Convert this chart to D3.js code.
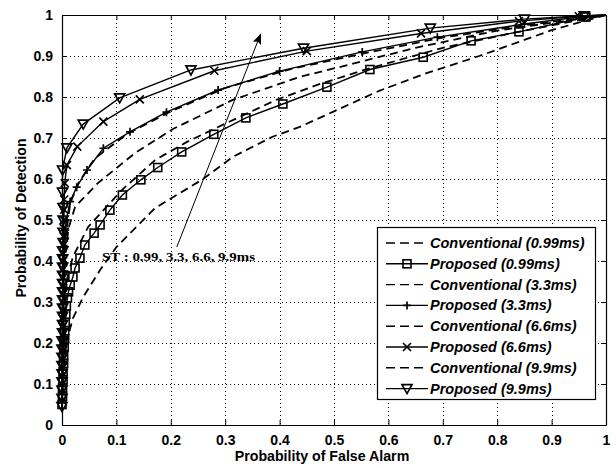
<!DOCTYPE html>
<html>
<head>
<meta charset="utf-8">
<script src="https://cdn.jsdelivr.net/npm/d3@7"></script>
<style>
	body { margin: 0; background: #fff; }
	svg { display: block; font-family: "Liberation Sans", Arial, sans-serif; }
</style>
</head>
<body>
<svg width="616" height="468"></svg>
<script>
/*
Chart data
*/

const xTicks = [0, 0.1, 0.2, 0.3, 0.4, 0.5, 0.6, 0.7, 0.8, 0.9, 1];
const yTicks = [0, 0.1, 0.2, 0.3, 0.4, 0.5, 0.6, 0.7, 0.8, 0.9, 1];

const legendLabels = [
	'Conventional (0.99ms)', 'Proposed (0.99ms)',
	'Conventional (3.3ms)', 'Proposed (3.3ms)',
	'Conventional (6.6ms)', 'Proposed (6.6ms)',
	'Conventional (9.9ms)', 'Proposed (9.9ms)'
];

// [Pfa, Pd] pairs
const conv099 = [[0,0.04],[0.002,0.12],[0.009,0.207],[0.02,0.26],[0.039,0.312],[0.07,0.378],[0.1,0.434],
	[0.171,0.529],[0.257,0.598],[0.314,0.654],[0.387,0.703],[0.437,0.727],[0.5,0.765],[0.583,0.815],
	[0.67,0.858],[0.767,0.9],[0.9,0.963],[1,1]];
const prop099 = [[0,0.05],[0.001,0.07],[0.001,0.09],[0.002,0.11],[0.002,0.13],[0.003,0.15],[0.003,0.17],
	[0.004,0.19],[0.005,0.21],[0.005,0.23],[0.006,0.25],[0.007,0.27],[0.008,0.29],[0.01,0.31],
	[0.012,0.325],[0.015,0.341],[0.02,0.361],[0.024,0.383],[0.033,0.407],[0.042,0.439],[0.059,0.468],
	[0.07,0.488],[0.088,0.524],[0.111,0.561],[0.145,0.598],[0.176,0.628],[0.22,0.666],[0.279,0.709],
	[0.338,0.749],[0.406,0.783],[0.487,0.824],[0.566,0.867],[0.664,0.897],[0.752,0.937],[0.84,0.959],
	[0.963,0.995],[1,1]];
const conv33 = [[0,0.04],[0.002,0.2],[0.005,0.3],[0.01,0.36],[0.02,0.41],[0.048,0.483],[0.11,0.573],
	[0.171,0.646],[0.229,0.69],[0.3,0.735],[0.394,0.793],[0.468,0.829],[0.56,0.868],[0.7,0.92],
	[0.85,0.962],[1,1]];
const prop33 = [[0,0.055],[0,0.075],[0.001,0.095],[0.001,0.115],[0.001,0.135],[0.001,0.155],[0.002,0.175],
	[0.002,0.195],[0.002,0.215],[0.002,0.235],[0.002,0.255],[0.003,0.275],[0.003,0.295],[0.003,0.315],
	[0.003,0.335],[0.003,0.355],[0.004,0.375],[0.004,0.395],[0.004,0.415],[0.005,0.435],[0.005,0.455],
	[0.006,0.475],[0.008,0.5],[0.015,0.545],[0.027,0.58],[0.046,0.622],[0.076,0.675],[0.125,0.715],
	[0.192,0.763],[0.287,0.817],[0.4,0.863],[0.552,0.91],[0.69,0.946],[0.85,0.978],[0.95,0.995],[1,1]];
const conv66 = [[0,0.04],[0.002,0.25],[0.005,0.4],[0.012,0.48],[0.024,0.532],[0.066,0.59],[0.134,0.663],
	[0.204,0.722],[0.314,0.793],[0.437,0.849],[0.51,0.873],[0.65,0.92],[0.8,0.962],[1,1]];
const prop66 = [[0,0.06],[0,0.08],[0,0.1],[0,0.12],[0.001,0.14],[0.001,0.16],[0.001,0.18],[0.001,0.2],
	[0.001,0.22],[0.001,0.24],[0.001,0.26],[0.002,0.28],[0.002,0.3],[0.002,0.32],[0.002,0.34],
	[0.002,0.36],[0.002,0.38],[0.002,0.4],[0.002,0.42],[0.003,0.44],[0.003,0.46],[0.003,0.48],
	[0.003,0.5],[0.004,0.525],[0.004,0.55],[0.005,0.59],[0.009,0.634],[0.028,0.679],[0.076,0.74],
	[0.143,0.794],[0.28,0.864],[0.45,0.912],[0.66,0.955],[0.84,0.985],[0.95,0.997],[1,1]];
const conv99 = [[0,0.04],[0.002,0.3],[0.006,0.45],[0.015,0.54],[0.03,0.59],[0.06,0.65],[0.12,0.71],
	[0.2,0.765],[0.3,0.822],[0.42,0.868],[0.55,0.905],[0.7,0.945],[0.85,0.975],[1,1]];
const prop99 = [[0,0.045],[0,0.065],[0,0.085],[0,0.105],[0,0.125],[0,0.145],[0,0.165],[0,0.185],
	[0,0.205],[0.001,0.225],[0.001,0.245],[0.001,0.265],[0.001,0.285],[0.001,0.305],[0.001,0.325],
	[0.001,0.345],[0.001,0.365],[0.001,0.385],[0.001,0.405],[0.001,0.425],[0.002,0.445],[0.002,0.47],
	[0.002,0.5],[0.002,0.53],[0.001,0.568],[0.001,0.622],[0.009,0.676],[0.039,0.734],[0.106,0.798],
	[0.237,0.866],[0.444,0.919],[0.677,0.968],[0.85,0.99],[0.96,0.998],[1,1]];

// annotation arrow, data coords
const arrowFrom = [0.211, 0.434];
const arrowTo = [0.365, 0.953];
const annotation = 'ST : 0.99, 3.3, 6.6, 9.9ms';

/*
Set up SVG
*/

var svg = d3.select('svg');
var plotLeft = 62, plotRight = 606, plotTop = 15, plotBottom = 425;

var x = d3.scaleLinear().domain([0, 1]).range([plotLeft, plotRight]);
var y = d3.scaleLinear().domain([0, 1]).range([plotBottom, plotTop]);

var series = [
	{ data: conv099, dashed: true,  marker: null },
	{ data: prop099, dashed: false, marker: 'square' },
	{ data: conv33,  dashed: true,  marker: null },
	{ data: prop33,  dashed: false, marker: 'plus' },
	{ data: conv66,  dashed: true,  marker: null },
	{ data: prop66,  dashed: false, marker: 'cross' },
	{ data: conv99,  dashed: true,  marker: null },
	{ data: prop99,  dashed: false, marker: 'triangle' }
];

/*
Grid (dotted, MATLAB style)
*/

var grid = svg.append('g').attr('class', 'grid')
	.attr('stroke', '#000').attr('stroke-width', 1).attr('stroke-dasharray', '1,3');

grid.selectAll('line.gx')
	.data(xTicks.slice(1, -1))
	.enter().append('line')
		.attr('x1', function(d){ return Math.round(x(d)) + 0.5; })
		.attr('x2', function(d){ return Math.round(x(d)) + 0.5; })
		.attr('y1', plotTop).attr('y2', plotBottom);

grid.selectAll('line.gy')
	.data(yTicks.slice(1, -1))
	.enter().append('line')
		.attr('y1', function(d){ return Math.round(y(d)) + 0.5; })
		.attr('y2', function(d){ return Math.round(y(d)) + 0.5; })
		.attr('x1', plotLeft).attr('x2', plotRight);

/*
Axes with inward ticks on all four sides
*/

function fmt(d){ return d === 0 ? '0' : d === 1 ? '1' : d3.format('.1f')(d); }

svg.append('g')
	.attr('transform', 'translate(0,' + plotBottom + ')')
	.call(d3.axisBottom(x).tickValues(xTicks).tickFormat(fmt).tickSizeInner(-5).tickSizeOuter(0).tickPadding(10));
svg.append('g')
	.attr('transform', 'translate(' + plotLeft + ',0)')
	.call(d3.axisLeft(y).tickValues(yTicks).tickFormat(fmt).tickSizeInner(-5).tickSizeOuter(0).tickPadding(9));
svg.append('g')
	.attr('transform', 'translate(0,' + plotTop + ')')
	.call(d3.axisTop(x).tickValues(xTicks).tickFormat('').tickSizeInner(-5).tickSizeOuter(0));
svg.append('g')
	.attr('transform', 'translate(' + plotRight + ',0)')
	.call(d3.axisRight(y).tickValues(yTicks).tickFormat('').tickSizeInner(-5).tickSizeOuter(0));

svg.selectAll('.tick text')
	.attr('fill', '#000')
	.style('font-size', '14px')
	.style('font-weight', 'bold');
svg.selectAll('.domain').attr('stroke', '#000').attr('stroke-width', 1.2);

/*
Curves
*/

var line = d3.line()
	.x(function(d){ return x(d[0]); })
	.y(function(d){ return y(d[1]); });

var curves = svg.append('g').attr('class', 'curves');

series.forEach(function(s){
	curves.append('path')
		.datum(s.data)
		.attr('fill', 'none')
		.attr('stroke', '#000')
		.attr('stroke-width', s.dashed ? 1.8 : 1.4)
		.attr('stroke-dasharray', s.dashed ? '8,5' : null)
		.attr('d', line);
});

function drawMarker(g, type, cx, cy){
	if(type == 'square'){
		g.append('rect')
			.attr('x', cx - 4).attr('y', cy - 4)
			.attr('width', 8).attr('height', 8)
			.attr('fill', 'none').attr('stroke', '#000').attr('stroke-width', 1.6);
	}
	else if(type == 'triangle'){
		g.append('path')
			.attr('d', 'M' + (cx - 5) + ',' + (cy - 4) + 'L' + (cx + 5) + ',' + (cy - 4) + 'L' + cx + ',' + (cy + 5) + 'Z')
			.attr('fill', 'none').attr('stroke', '#000').attr('stroke-width', 1.7);
	}
	else if(type == 'plus'){
		g.append('path')
			.attr('d', 'M' + (cx - 4) + ',' + cy + 'H' + (cx + 4) + 'M' + cx + ',' + (cy - 4) + 'V' + (cy + 4))
			.attr('stroke', '#000').attr('stroke-width', 1.7);
	}
	else if(type == 'cross'){
		g.append('path')
			.attr('d', 'M' + (cx - 4) + ',' + (cy - 4) + 'L' + (cx + 4) + ',' + (cy + 4) +
				'M' + (cx - 4) + ',' + (cy + 4) + 'L' + (cx + 4) + ',' + (cy - 4))
			.attr('stroke', '#000').attr('stroke-width', 1.7);
	}
}

var markers = svg.append('g').attr('class', 'markers');
series.forEach(function(s){
	if(!s.marker) return;
	s.data.forEach(function(d){
		if(d[0] == 1) return;
		drawMarker(markers, s.marker, x(d[0]), y(d[1]));
	});
});

/*
Annotation with arrow
*/

svg.append('defs').append('marker')
	.attr('id', 'head')
	.attr('viewBox', '0 0 10 10')
	.attr('refX', 9).attr('refY', 5)
	.attr('markerWidth', 11).attr('markerHeight', 11)
	.attr('markerUnits', 'userSpaceOnUse')
	.attr('orient', 'auto')
	.append('path')
		.attr('d', 'M0,1L10,5L0,9L2,5Z')
		.attr('fill', '#000');

svg.append('line')
	.attr('x1', x(arrowFrom[0])).attr('y1', y(arrowFrom[1]))
	.attr('x2', x(arrowTo[0])).attr('y2', y(arrowTo[1]))
	.attr('stroke', '#000').attr('stroke-width', 1)
	.attr('marker-end', 'url(#head)');

svg.append('text')
	.attr('x', 102).attr('y', 261)
	.attr('font-family', '"Liberation Serif", "Times New Roman", serif')
	.attr('font-weight', 'bold')
	.attr('font-size', 12.5)
	.attr('textLength', 153)
	.attr('lengthAdjust', 'spacingAndGlyphs')
	.text(annotation);

/*
Legend
*/

var legend = svg.append('g').attr('class', 'legend');
legend.append('rect')
	.attr('x', 377.5).attr('y', 227.5)
	.attr('width', 218).attr('height', 172)
	.attr('fill', '#fff').attr('stroke', '#000').attr('stroke-width', 1.2);

legendLabels.forEach(function(label, i){
	var ly = 243 + i * 20.8;
	var s = series[i];
	legend.append('line')
		.attr('x1', 386).attr('x2', 428)
		.attr('y1', ly).attr('y2', ly)
		.attr('stroke', '#000')
		.attr('stroke-width', s.dashed ? 1.4 : 1.4)
		.attr('stroke-dasharray', s.dashed ? '9,5' : null);
	if(s.marker) drawMarker(legend, s.marker, 407, ly);
	legend.append('text')
		.attr('x', 430).attr('y', ly + 5)
		.attr('font-size', 14.5)
		.attr('font-weight', 'bold')
		.attr('font-style', 'italic')
		.text(label);
});

/*
Axis titles
*/

svg.append('text')
	.attr('x', 322).attr('y', 461)
	.attr('text-anchor', 'middle')
	.attr('font-size', 14.2).attr('font-weight', 'bold')
	.text('Probability of False Alarm');

svg.append('text')
	.attr('transform', 'translate(26,218) rotate(-90)')
	.attr('text-anchor', 'middle')
	.attr('font-size', 14.2).attr('font-weight', 'bold')
	.text('Probability of Detection');
</script>
</body>
</html>
